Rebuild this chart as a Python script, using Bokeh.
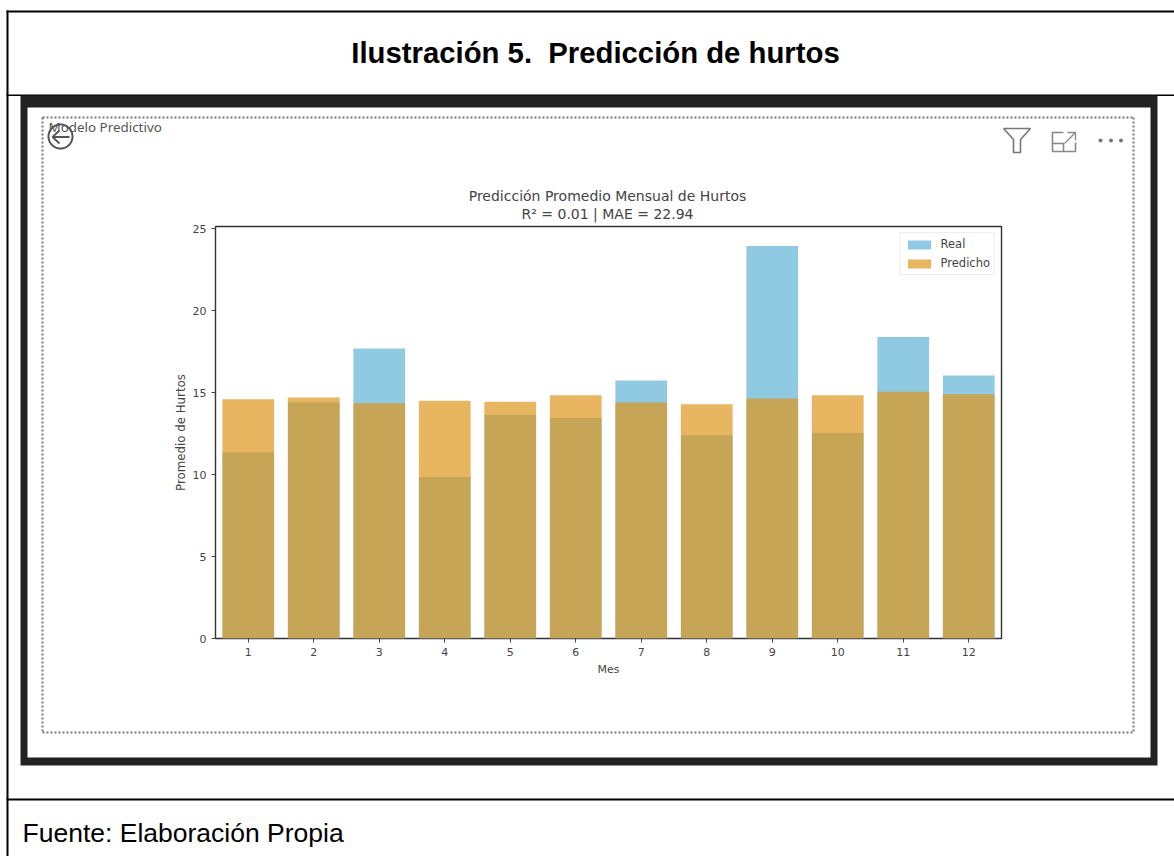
import math
from bokeh.plotting import figure
from bokeh.layouts import column
from bokeh.embed import file_html
from bokeh.resources import INLINE
from bokeh.core.properties import value
from bokeh.models import Legend, LegendItem, FixedTicker, ColumnDataSource, Range1d

meses = [1, 2, 3, 4, 5, 6, 7, 8, 9, 10, 11, 12]
real = [11.35, 14.4, 17.7, 9.85, 13.65, 13.45, 15.75, 12.4, 23.95, 12.55, 18.4, 16.05]
predicho = [14.6, 14.7, 14.35, 14.5, 14.45, 14.85, 14.4, 14.3, 14.65, 14.85, 15.05, 14.9]
y_ticks = [0, 5, 10, 15, 20, 25]
titulo = "Ilustración 5.\u00a0\u00a0Predicción de hurtos"
fuente = "Fuente: Elaboración Propia"
visual = "Modelo Predictivo"
chart_title = ["Predicción Promedio Mensual de Hurtos", "R² = 0.01 | MAE = 22.94"]

W, H = 1174, 856
L, R, T, B = 215, 1001, 226, 638

# ---------- page background: table rules, dark frame, icons, texts ----------
bg = figure(width=W, height=H, output_backend="svg", toolbar_location=None,
            x_range=Range1d(0, W), y_range=Range1d(H, 0), min_border=0, frame_align=False,
            x_axis_location=None, y_axis_location=None, outline_line_color=None)
bg.grid.visible = False

def box(x0, y0, x1, y1, color):
    bg.quad(left=[x0], right=[x1], top=[y0], bottom=[y1], fill_color=color, line_color=None)

def line(xs, ys, color="#777777", width=2.0, dash="solid"):
    bg.line(xs, ys, line_color=color, line_width=width, line_dash=dash)

def text(x, y, t, size, color="black", style="normal", font="Liberation Sans", align="left"):
    bg.text([x], [y], text=[t], text_font=value(font), text_font_size=value(f"{size}px"), text_color=color,
            text_font_style=style, text_align=align, text_baseline="middle")

box(6, 10, W, 12, "black")
box(6, 94, W, 95.5, "black")
box(6, 798, W, 800, "black")
box(6, 10, 8, H, "black")
box(20, 95, 1157, 765, "#222222")
box(27, 107, 1150, 757, "white")

for xs, ys in [([42, 1133], [117, 117]), ([42, 1133], [732, 732]), ([42, 42], [117, 732]), ([1133, 1133], [117, 732])]:
    line(xs, ys, color="#777777", width=2, dash="2 2")

text(595, 52, titulo, 29.3, style="bold", align="center")
text(22, 832, fuente, 26.5)
text(48, 126, visual, 13.4, color="#555555", font="Noto Sans")

n = 48
line([60 + 12 * math.cos(2 * math.pi * i / n) for i in range(n + 1)],
     [136 + 12 * math.sin(2 * math.pi * i / n) for i in range(n + 1)], color="#555555", width=2)
line([69, 52], [136.5, 136.5], color="#555555", width=1.8)
line([59, 52, 59], [130, 136.5, 143], color="#555555", width=1.8)

line([1003, 1030, 1020, 1020, 1013, 1013, 1003], [128, 128, 139, 152, 152, 139, 128], color="#777777", width=1.6)
line([1063, 1052, 1052, 1075, 1075], [132, 132, 151, 151, 142], color="#888888", width=1.6)
line([1052, 1063, 1063], [143, 143, 151], color="#888888", width=1.6)
line([1064, 1075], [143, 132], color="#888888", width=1.3)
line([1067, 1075, 1075], [132, 132, 140], color="#888888", width=1.3)
bg.scatter([1100, 1110.5, 1120.5], [140, 140, 140], size=4, marker="circle", fill_color="#777777", line_color=None)

text(607, 195, chart_title[0], 14, color="#444444", font="DejaVu Sans", align="center")
text(607, 213.5, chart_title[1], 14, color="#444444", font="DejaVu Sans", align="center")

# ---------- chart, laid over the background ----------
p = figure(width=W, height=H, output_backend="svg", toolbar_location=None,
           x_range=Range1d(0.5, 12.5), y_range=Range1d(0, 25.14), frame_align=False,
           min_border_left=L, min_border_right=W - R, min_border_top=T, min_border_bottom=H - B,
           outline_line_color="#333333", outline_line_width=1.4,
           border_fill_alpha=0, background_fill_alpha=0, margin=(-H, 0, 0, 0))
p.grid.visible = False

src = ColumnDataSource(dict(mes=meses, real=real, predicho=predicho))
r1 = p.vbar(x="mes", top="real", width=0.79, source=src, fill_color="#90c9e2", line_color=None)
r2 = p.vbar(x="mes", top="predicho", width=0.79, source=src, fill_color="#de951c", fill_alpha=0.7, line_color=None)

for ax in (p.xaxis[0], p.yaxis[0]):
    ax.axis_label_text_font = "DejaVu Sans"
    ax.axis_label_text_font_size = "11px"
    ax.axis_label_text_font_style = "normal"
    ax.axis_label_text_color = "#444444"
    ax.major_label_text_font = "DejaVu Sans"
    ax.major_label_text_font_size = "11px"
    ax.major_label_text_color = "#444444"
    ax.major_tick_in = 0
    ax.major_tick_out = 4
    ax.minor_tick_line_color = None
    ax.axis_line_color = None
    ax.major_tick_line_color = "#444444"
p.xaxis[0].ticker = FixedTicker(ticks=meses)
p.yaxis[0].ticker = FixedTicker(ticks=y_ticks)
p.xaxis[0].axis_label = "Mes"
p.yaxis[0].axis_label = "Promedio de Hurtos"
p.yaxis[0].axis_label_text_font_size = "11.8px"
p.xaxis[0].axis_label_standoff = 4
p.yaxis[0].axis_label_standoff = 2

legend = Legend(items=[LegendItem(label="Real", renderers=[r1]), LegendItem(label="Predicho", renderers=[r2])],
                location="top_right", margin=6, padding=4, spacing=5,
                glyph_width=29, glyph_height=11, label_text_font="DejaVu Sans", label_text_font_size="11.5px",
                label_text_color="#444444", border_line_color="#dddddd", label_standoff=7, label_height=13)
p.add_layout(legend)

layout = column(bg, p, spacing=0)
open("out.html", "w").write(file_html(layout, INLINE))
